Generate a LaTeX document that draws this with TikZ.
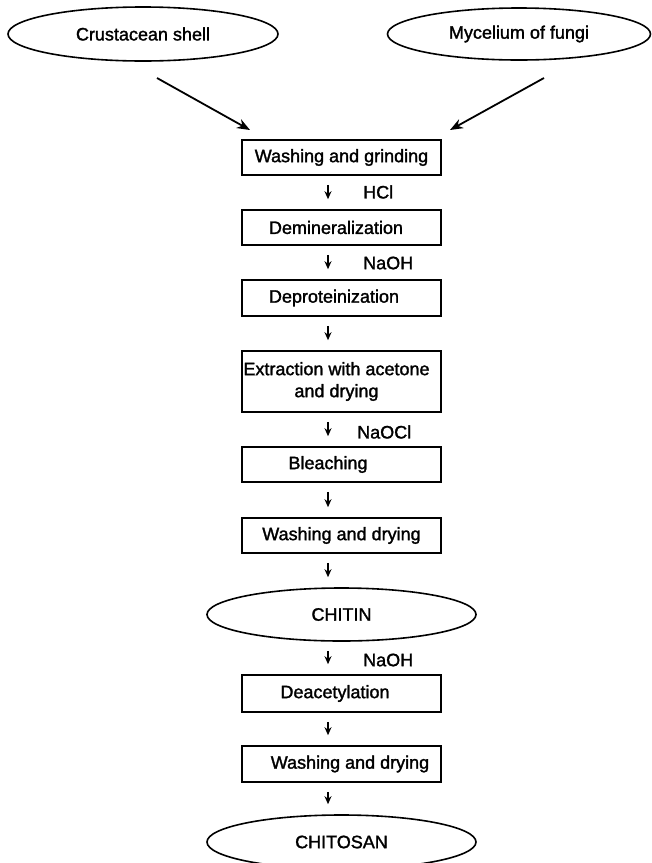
\documentclass[tikz,border=0pt]{standalone}
\usepackage{fontspec}
\setmainfont{Liberation Sans}[FakeBold=1.6]
\usetikzlibrary{arrows.meta,shapes.geometric}
\begin{document}
\begin{tikzpicture}[x=1pt,y=-1pt,
 box/.style={draw, line width=1.6pt, minimum width=199pt, minimum height=35pt, inner sep=0pt},
 oval/.style={draw, ellipse, line width=1.6pt, inner sep=0pt, font=\fontsize{18}{22}\selectfont},
 txt/.style={font=\fontsize{18}{22}\selectfont, inner sep=0pt, align=center},
 down/.style={line width=1.5pt, -{Stealth[length=8pt,width=7pt]}},
 diag/.style={line width=1.8pt, -{Stealth[length=13pt,width=10pt]}}]
\useasboundingbox (0,0) rectangle (652,863);
\fill[white] (0,0) rectangle (652,863);

% source ellipses
\node[oval, minimum width=270pt, minimum height=54pt] (crust) at (143,34) {Crustacean shell};
\node[oval, minimum width=263pt, minimum height=52pt] (myc) at (519,34) {Mycelium of fungi};

% boxes
\node[box] (b1) at (341.5,157.5) {};
\node[txt] (t1) at (b1) {Washing and grinding};
\node[box] (b2) at (341.5,227.5) {};
\node[txt] (t2) at ([xshift=-5.5pt]b2.center) {Demineralization};
\node[box, minimum height=36pt] (b3) at (341.5,298) {};
\node[txt] (t3) at ([xshift=-7.5pt]b3.center) {Deproteinization};
\node[box, minimum height=61pt] (b4) at (341.5,381.5) {};
\node[txt] (t4) at ([xshift=-5pt]b4.center) {Extraction with acetone\\and drying};
\node[box] (b5) at (341.5,464.5) {};
\node[txt] (t5) at ([xshift=-13.5pt]b5.center) {Bleaching};
\node[box] (b6) at (341.5,535.5) {};
\node[txt] (t6) at (b6) {Washing and drying};
\node[oval, minimum width=269pt, minimum height=53pt] (chitin) at (341.5,614.5) {CHITIN};
\node[box, minimum height=37pt] (b7) at (341.5,693.5) {};
\node[txt] (t7) at ([xshift=-6.5pt]b7.center) {Deacetylation};
\node[box, minimum height=36pt] (b8) at (341.5,764) {};
\node[txt] (t8) at ([xshift=8.5pt]b8.center) {Washing and drying};
\node[oval, minimum width=269pt, minimum height=54pt] (chitosan) at (341.5,842) {CHITOSAN};

% reagent labels
\node[txt, anchor=west] (l1) at (363,192) {HCl};
\node[txt, anchor=west] (l2) at (363,263) {NaOH};
\node[txt, anchor=west] (l3) at (357,432) {NaOCl};
\node[txt, anchor=west] (l4) at (363,660) {NaOH};

% diagonal arrows
\coordinate (s1) at (157,78);
\coordinate (e1) at (250,130);
\coordinate (s2) at (544,78);
\coordinate (e2) at (450,130);
\draw[diag] (s1) -- (e1);
\draw[diag] (s2) -- (e2);

% down arrows
\draw[down] ([xshift=-13.5pt,yshift=-9pt]b1.south) -- ([xshift=-13.5pt,yshift=10pt]b2.north);
\draw[down] ([xshift=-13.5pt,yshift=-9pt]b2.south) -- ([xshift=-13.5pt,yshift=10pt]b3.north);
\draw[down] ([xshift=-13.5pt,yshift=-9pt]b3.south) -- ([xshift=-13.5pt,yshift=10pt]b4.north);
\draw[down] ([xshift=-13.5pt,yshift=-9pt]b4.south) -- ([xshift=-13.5pt,yshift=10pt]b5.north);
\draw[down] ([xshift=-13.5pt,yshift=-9pt]b5.south) -- ([xshift=-13.5pt,yshift=10pt]b6.north);
\draw[down] ([xshift=-13.5pt,yshift=-9pt]b6.south) -- ([xshift=-13.5pt,yshift=10pt]chitin.north);
\draw[down] ([xshift=-13.5pt,yshift=-9pt]chitin.south) -- ([xshift=-13.5pt,yshift=10pt]b7.north);
\draw[down] ([xshift=-13.5pt,yshift=-9pt]b7.south) -- ([xshift=-13.5pt,yshift=10pt]b8.north);
\draw[down] ([xshift=-13.5pt,yshift=-9pt]b8.south) -- ([xshift=-13.5pt,yshift=10pt]chitosan.north);
\end{tikzpicture}
\end{document}
